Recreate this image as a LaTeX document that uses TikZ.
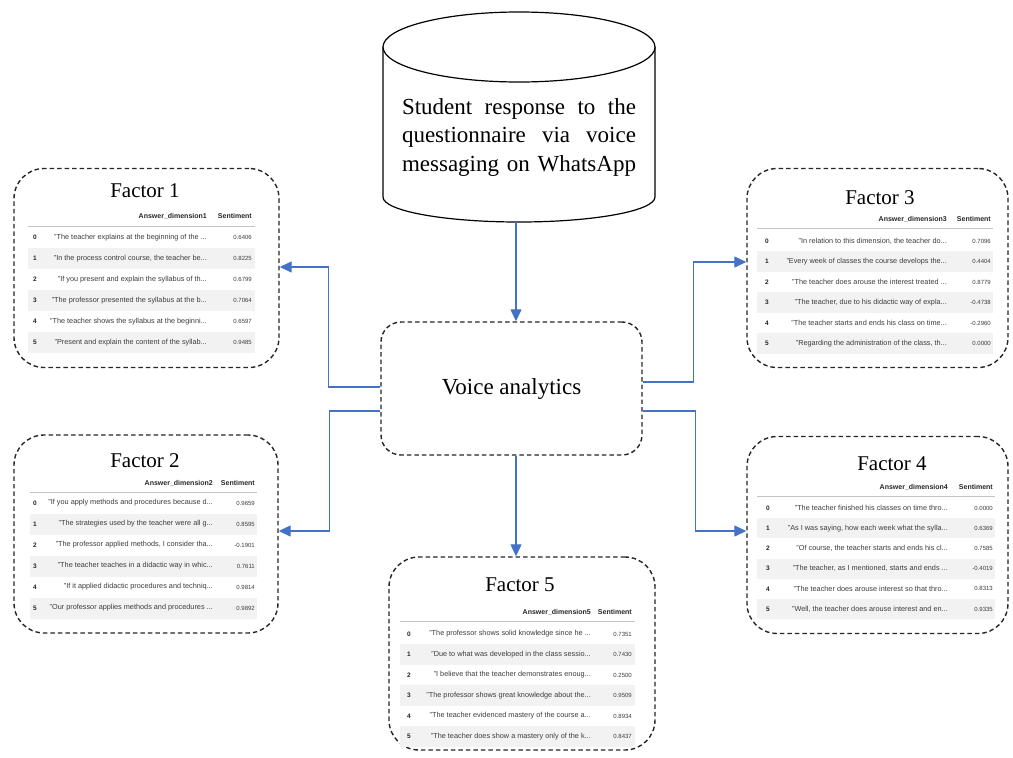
\documentclass[tikz,border=0pt]{standalone}
\usepackage{fontspec}
\setmainfont{Liberation Serif}
\setsansfont{Liberation Sans}
\usetikzlibrary{arrows.meta}
\definecolor{connblue}{HTML}{4472C4}
\definecolor{rowgray}{HTML}{F2F2F2}
\definecolor{tabtext}{HTML}{3C3C3C}
\definecolor{hdrline}{HTML}{C4C4C4}

\newcommand\tabsetup[9]{\def\TL{#1}\def\TR{#2}\def\TI{#3}\def\TT{#4}\def\TN{#5}\def\TH{#6}\def\TLy{#7}\def\TY{#8}\def\TD{#9}}
\newcommand\tabhead[2]{%
  \draw[hdrrule] (\TL,\TLy) -- (\TR,\TLy);
  \node[hdr] (#1ha) at (\TT,\TH) {Answer\_dimension#2};
  \node[hdr] (#1hb) at (\TN,\TH) {Sentiment};
}
\newcommand\trow[4]{%
  \pgfmathsetmacro\ry{\TY+#2*\TD}%
  \ifodd#2\relax\fill[rowgray] (\TL,{\ry-\TD/2}) rectangle (\TR,{\ry+\TD/2});\fi
  \node[idx] (#1i#2) at (\TI,\ry) {#2};
  \node[txt] (#1t#2) at (\TT,\ry) {#3};
  \node[num] (#1n#2) at (\TN,\ry) {#4};
}

\begin{document}
\begin{tikzpicture}[x=1pt,y=-1pt,
  factorbox/.style={draw=black!85, line width=1.4pt, dash pattern=on 4.5pt off 3pt, rounded corners=30pt, inner sep=0pt},
  vabox/.style={draw=black!85, line width=1.4pt, dash pattern=on 4.5pt off 3pt, rounded corners=20pt, inner sep=0pt, font=\fontsize{23}{28}\selectfont},
  ftitle/.style={inner sep=0pt, font=\fontsize{21}{25}\selectfont},
  cylline/.style={draw=black, line width=1.2pt, fill=white},
  cyltext/.style={inner sep=0pt, align=center, font=\fontsize{23}{28.5}\selectfont},
  arrowline/.style={draw=connblue, line width=1.3pt, -{Triangle[length=12pt,width=11pt]}},
  txt/.style={anchor=east, inner sep=0pt, text=tabtext, font=\sffamily\fontsize{7.3}{8}\selectfont},
  num/.style={anchor=east, inner sep=0pt, text=tabtext, font=\sffamily\fontsize{6}{7}\selectfont},
  idx/.style={inner sep=0pt, text=black!85, font=\sffamily\bfseries\fontsize{6.5}{7}\selectfont},
  hdr/.style={anchor=east, inner sep=0pt, text=black!85, font=\sffamily\bfseries\fontsize{7}{8}\selectfont},
  hdrrule/.style={draw=hdrline, line width=0.8pt}]
\useasboundingbox (0,0) rectangle (1013,758);
\fill[white] (0,0) rectangle (1013,758);

% database cylinder
\draw[cylline] (383,47) -- (383,197) arc[start angle=180,end angle=0,x radius=136,y radius=25] -- (655,47);
\draw[cylline] (519,47) ellipse [x radius=136, y radius=35];
\node[cyltext] (cyl) at (519,137) {\makebox[234pt][s]{Student response to the}\\\makebox[234pt][s]{questionnaire via voice}\\\makebox[234pt][s]{messaging on WhatsApp}};
\coordinate (cylb) at (516,222);

% central box
\node[vabox, minimum width=261pt, minimum height=133pt] (va) at (511.5,388.5) {Voice analytics};

% factor boxes
\node[factorbox, minimum width=265pt, minimum height=199pt] (f1) at (146.5,268) {};
\node[factorbox, minimum width=264pt, minimum height=198pt] (f2) at (146,534) {};
\node[factorbox, minimum width=261pt, minimum height=199pt] (f3) at (877.5,268) {};
\node[factorbox, minimum width=261pt, minimum height=197pt] (f4) at (877.5,535) {};
\node[factorbox, minimum width=266pt, minimum height=193pt] (f5) at (522,653.5) {};

\node[ftitle] (f1title) at (145,191) {Factor 1};
\node[ftitle] (f2title) at (145,461) {Factor 2};
\node[ftitle] (f3title) at (880,198) {Factor 3};
\node[ftitle] (f4title) at (892,464) {Factor 4};
\node[ftitle] (f5title) at (520,585) {Factor 5};

% table 1
\tabsetup{28}{255}{35}{207}{252}{216}{226}{237.5}{21}
\tabhead{a}{1}
\trow{a}{0}{"The teacher explains at the beginning of the ...}{0.6406}
\trow{a}{1}{"In the process control course, the teacher be...}{0.8225}
\trow{a}{2}{"If you present and explain the syllabus of th...}{0.6799}
\trow{a}{3}{"The professor presented the syllabus at the b...}{0.7064}
\trow{a}{4}{"The teacher shows the syllabus at the beginni...}{0.6597}
\trow{a}{5}{"Present and explain the content of the syllab...}{0.9485}

% table 2
\tabsetup{30}{257}{35}{213}{255}{483}{492}{503}{21}
\tabhead{b}{2}
\trow{b}{0}{"If you apply methods and procedures because d...}{0.9659}
\trow{b}{1}{"The strategies used by the teacher were all g...}{0.8595}
\trow{b}{2}{"The professor applied methods, I consider tha...}{-0.1901}
\trow{b}{3}{"The teacher teaches in a didactic way in whic...}{0.7611}
\trow{b}{4}{"If it applied didactic procedures and techniq...}{0.9814}
\trow{b}{5}{"Our professor applies methods and procedures ...}{0.9892}

% table 3
\tabsetup{757}{993}{767}{947}{991}{219}{228}{241}{20.5}
\tabhead{c}{3}
\trow{c}{0}{"In relation to this dimension, the teacher do...}{0.7096}
\trow{c}{1}{"Every week of classes the course develops the...}{0.4404}
\trow{c}{2}{"The teacher does arouse the interest treated ...}{0.8779}
\trow{c}{3}{"The teacher, due to his didactic way of expla...}{-0.4738}
\trow{c}{4}{"The teacher starts and ends his class on time...}{-0.2960}
\trow{c}{5}{"Regarding the administration of the class, th...}{0.0000}

% table 4
\tabsetup{757}{995}{768}{948}{993}{487}{496}{508}{20.2}
\tabhead{d}{4}
\trow{d}{0}{"The teacher finished his classes on time thro...}{0.0000}
\trow{d}{1}{"As I was saying, how each week what the sylla...}{0.6369}
\trow{d}{2}{"Of course, the teacher starts and ends his cl...}{0.7585}
\trow{d}{3}{"The teacher, as I mentioned, starts and ends ...}{-0.4019}
\trow{d}{4}{"The teacher does arouse interest so that thro...}{0.8313}
\trow{d}{5}{"Well, the teacher does arouse interest and en...}{0.9335}

% table 5
\tabsetup{400}{635}{409}{591}{632}{612}{621}{634}{20.5}
\tabhead{e}{5}
\trow{e}{0}{"The professor shows solid knowledge since he ...}{0.7351}
\trow{e}{1}{"Due to what was developed in the class sessio...}{0.7430}
\trow{e}{2}{"I believe that the teacher demonstrates enoug...}{0.2500}
\trow{e}{3}{"The professor shows great knowledge about the...}{0.9509}
\trow{e}{4}{"The teacher evidenced mastery of the course a...}{0.8934}
\trow{e}{5}{"The teacher does show a mastery only of the k...}{0.8437}

% connectors
\draw[arrowline] (cylb) -- (va.north -| cylb);
\draw[arrowline] ([yshift=1.5pt]va.west) -- ++(-52,0) |- ([yshift=1pt]f1.east);
\draw[arrowline] ([yshift=-22.5pt]va.west) -- ++(-51,0) |- ([yshift=3pt]f2.east);
\draw[arrowline] ([yshift=6.5pt]va.east) -- ++(51,0) |- ([yshift=6pt]f3.west);
\draw[arrowline] ([yshift=-22.5pt]va.east) -- ++(53,0) |- ([yshift=4pt]f4.west);
\draw[arrowline] (va.south -| cylb) -- (f5.north -| cylb);
\end{tikzpicture}
\end{document}
